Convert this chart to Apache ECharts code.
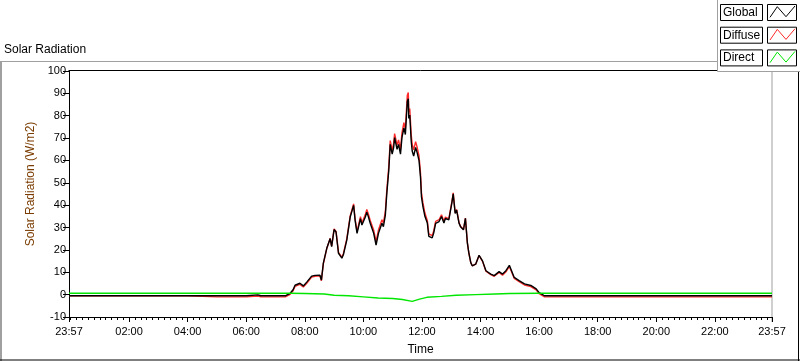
<!DOCTYPE html>
<html>
<head>
<meta charset="utf-8">
<script src="https://cdn.jsdelivr.net/npm/echarts@6/dist/echarts.min.js"></script>
<style>
  html, body { margin: 0; padding: 0; background: #fff; }
  #chart { width: 800px; height: 361px; }
</style>
</head>
<body>
<div id="chart"></div>
<script>
// minutes since midnight (23:57 of the previous day = -3)
const times = [-3, 120, 240, 300, 360, 384, 390, 440, 450, 456, 460, 470, 477, 484, 494, 501, 511, 514, 518, 525, 532,
  535, 540, 544, 549, 556, 559, 566, 573, 577, 580, 583, 587, 594, 597, 604, 607, 610, 614, 621, 626,
  631, 638, 641, 645, 648, 652, 655, 659, 662, 664, 669, 672, 676, 679, 683, 686, 690, 692, 693, 695,
  698, 700, 703, 707, 710, 714, 717, 719, 722, 726, 731, 734, 741, 744, 748, 755, 760, 765, 768, 775,
  781, 784, 788, 791, 796, 799, 805, 809, 813, 816, 820, 823, 830, 837, 844, 851, 861, 868, 878, 885,
  892, 899, 902, 909, 919, 930, 943, 954, 960, 971, 1200, 1437];

const globalVals = [-0.5, -0.5, -0.5, -0.5, -0.5, -0.1, -0.5, -0.5, 0.6, 2.2, 4.2, 5.1, 3.9, 5.6, 8.3, 8.6, 8.7, 6.5, 14.1, 20.7, 25.1,
  21.5, 29.1, 28, 18.5, 16.3, 17.8, 24.4, 34.7, 37.7, 39.9, 33.3, 27.4, 34, 31.1, 34.7, 36.9, 35, 31.9, 27.5, 22.2,
  27.5, 31.9, 30.4, 35.6, 45.2, 55.5, 67.2, 62.8, 65.8, 70.2, 65, 67.2, 62.8, 70.2, 74.6, 71.6, 86.5, 87.6, 78.8, 80.3,
  68.6, 64.2, 62, 65.8, 63.6, 59.9, 52.5, 43.7, 39.4, 35, 32, 26.1, 25.4, 27.5, 31.9, 32.7, 34.9, 32, 34.1, 33.4,
  40.7, 45.1, 36.3, 37.8, 31.9, 30.4, 29, 34.1, 23.1, 18.7, 14.3, 12.9, 13.6, 17.6, 15.1, 10.7, 9.2, 8.5, 10.3, 9.2,
  10.7, 13.1, 12.9, 7.7, 6.3, 4.8, 4.1, 2.6, 0.9, -0.5, -0.5, -0.5];

const diffuseVals = [-0.5, -0.5, -0.5, -1, -1, -0.6, -1, -1, 0.1, 1.7, 3.7, 4.6, 3.4, 5.1, 7.9, 8.2, 8.4, 6.2, 13.8, 20.6, 25.2,
  21.7, 29.4, 28.3, 18.9, 16.7, 18.3, 24.9, 35.2, 38.3, 40.6, 34, 28.2, 34.9, 32, 35.8, 38.1, 36.2, 33.2, 28.9, 23.7,
  29, 33.5, 32, 37.2, 46.9, 57.2, 68.9, 64.5, 67.6, 72, 66.9, 69.2, 64.9, 72.3, 76.9, 74, 89.2, 90.4, 81.6, 83.2,
  71.5, 67.2, 64.8, 68.4, 66, 62, 54.4, 45.5, 41, 36.5, 33.1, 27.2, 26.4, 28.5, 32.8, 33.5, 35.7, 32.7, 34.7, 33.9,
  41.2, 45.5, 36.7, 38.1, 32.1, 30.6, 29.1, 34.2, 23.2, 18.7, 14.3, 12.9, 13.6, 17.5, 14.9, 10.5, 8.9, 8.2, 9.9, 8.7,
  10.2, 12.6, 12.4, 7.2, 5.8, 4.3, 3.6, 2.1, 0.4, -1, -1, -1];

const directTimes = [-3, 450, 480, 520, 540, 570, 600, 630, 660, 680, 700, 715, 730, 760, 790, 830, 870, 900, 960, 1437];
const directVals = [0.6, 0.6, 0.5, 0.3, -0.3, -0.5, -1, -1.5, -1.7, -2.2, -3, -2, -1.2, -0.8, -0.3, 0, 0.3, 0.5, 0.6, 0.6];

const xLabelValues = [-3, 120, 240, 360, 480, 600, 720, 840, 960, 1080, 1200, 1320, 1437];
const xLabelTexts = ['23:57', '02:00', '04:00', '06:00', '08:00', '10:00', '12:00', '14:00', '16:00', '18:00', '20:00', '22:00', '23:57'];
const legendNames = ['Global', 'Diffuse', 'Direct'];
const lineColors = ['#000000', '#ff2a2a', '#00e600'];

const minorTicks = [-3];
for (let m = 0; m <= 1437; m += 12) minorTicks.push(m);
minorTicks.push(1437);

const FONT = 'Liberation Sans';
const pairs = (xs, ys) => xs.map((x, i) => [x, ys[i]]);

const legendGraphics = [];
legendNames.forEach((name, i) => {
  const y = 4 + i * 22.7;
  legendGraphics.push(
    { type: 'rect', shape: { x: 720.5, y: y + 0.5, width: 42, height: 16 }, style: { fill: '#fff', stroke: '#000', lineWidth: 1 } },
    { type: 'text', x: 723, y: y + 8.5, style: { text: name, font: '12px ' + FONT, fill: '#000', verticalAlign: 'middle' } },
    { type: 'rect', shape: { x: 767.5, y: y + 0.5, width: 29, height: 16 }, style: { fill: '#fff', stroke: '#000', lineWidth: 1 } },
    { type: 'polyline', shape: { points: [[770, y + 13.3], [777.3, y + 2.7], [786, y + 12.7], [795, y + 2]] },
      style: { stroke: lineColors[i], lineWidth: 1, fill: null } }
  );
});

const chart = echarts.init(document.getElementById('chart'));
chart.setOption({
  animation: false,
  backgroundColor: '#fff',
  grid: { left: 69, right: 28, top: 71, bottom: 39 },
  xAxis: [{
    type: 'value', min: -3, max: 1437,
    name: 'Time', nameLocation: 'middle', nameGap: 27,
    nameTextStyle: { color: '#000', fontFamily: FONT, fontSize: 12 },
    axisLine: { show: true, onZero: false, lineStyle: { color: '#000', width: 1 } },
    axisTick: { show: true, customValues: minorTicks, length: 3, lineStyle: { color: '#000' } },
    axisLabel: {
      customValues: xLabelValues, margin: 9, color: '#000', fontFamily: FONT, fontSize: 11,
      formatter: v => xLabelTexts[xLabelValues.indexOf(v)]
    },
    splitLine: { show: false }
  }, {
    type: 'value', min: -3, max: 1437, position: 'bottom',
    axisLine: { show: false, onZero: false },
    axisTick: { show: true, customValues: xLabelValues, length: 5, lineStyle: { color: '#000' } },
    axisLabel: { show: false },
    splitLine: { show: false }
  }],
  yAxis: {
    type: 'value', min: -10, max: 100, interval: 10,
    axisLine: { show: true, onZero: false, lineStyle: { color: '#000', width: 1 } },
    axisTick: { show: true, length: 6, lineStyle: { color: '#000' } },
    axisLabel: { margin: 3, color: '#000', fontFamily: FONT, fontSize: 11 },
    splitLine: { show: false }
  },
  series: [
    { name: 'Diffuse', type: 'line', showSymbol: false, z: 2, data: pairs(times, diffuseVals),
      lineStyle: { color: lineColors[1], width: 1.4 } },
    { name: 'Global', type: 'line', showSymbol: false, z: 3, data: pairs(times, globalVals),
      lineStyle: { color: lineColors[0], width: 1.4 } },
    { name: 'Direct', type: 'line', showSymbol: false, z: 4, data: pairs(directTimes, directVals),
      lineStyle: { color: lineColors[2], width: 1.4 } }
  ],
  graphic: [
    // outer frame
    { type: 'line', shape: { x1: 0, y1: 61.5, x2: 800, y2: 61.5 }, style: { stroke: '#a0a0a0', lineWidth: 1 } },
    { type: 'line', shape: { x1: 1, y1: 61.5, x2: 1, y2: 361 }, style: { stroke: '#a0a0a0', lineWidth: 2 } },
    { type: 'line', shape: { x1: 0, y1: 360, x2: 800, y2: 360 }, style: { stroke: '#000', lineWidth: 1 } },
    { type: 'line', shape: { x1: 798.5, y1: 61.5, x2: 798.5, y2: 361 }, style: { stroke: '#000', lineWidth: 1 } },
    // plot border top / right
    { type: 'line', shape: { x1: 68.5, y1: 70.5, x2: 772, y2: 70.5 }, style: { stroke: '#000', lineWidth: 1 } },
    { type: 'line', shape: { x1: 772, y1: 70.5, x2: 772, y2: 322 }, style: { stroke: '#a0a0a0', lineWidth: 1 } },
    { type: 'text', x: 4, y: 44, style: { text: 'Solar Radiation', font: '12px ' + FONT, fill: '#000' } },
    { type: 'text', x: 31, y: 184, rotation: Math.PI / 2,
      style: { text: 'Solar Radiation (W/m2)', font: '12px ' + FONT, fill: '#7a3c00', align: 'center', verticalAlign: 'middle' } },
    // legend panel
    { type: 'rect', shape: { x: 717.5, y: -1, width: 84, height: 72.5 }, style: { fill: '#fff', stroke: '#a0a0a0', lineWidth: 1 } },
    ...legendGraphics
  ]
});
</script>
</body>
</html>
